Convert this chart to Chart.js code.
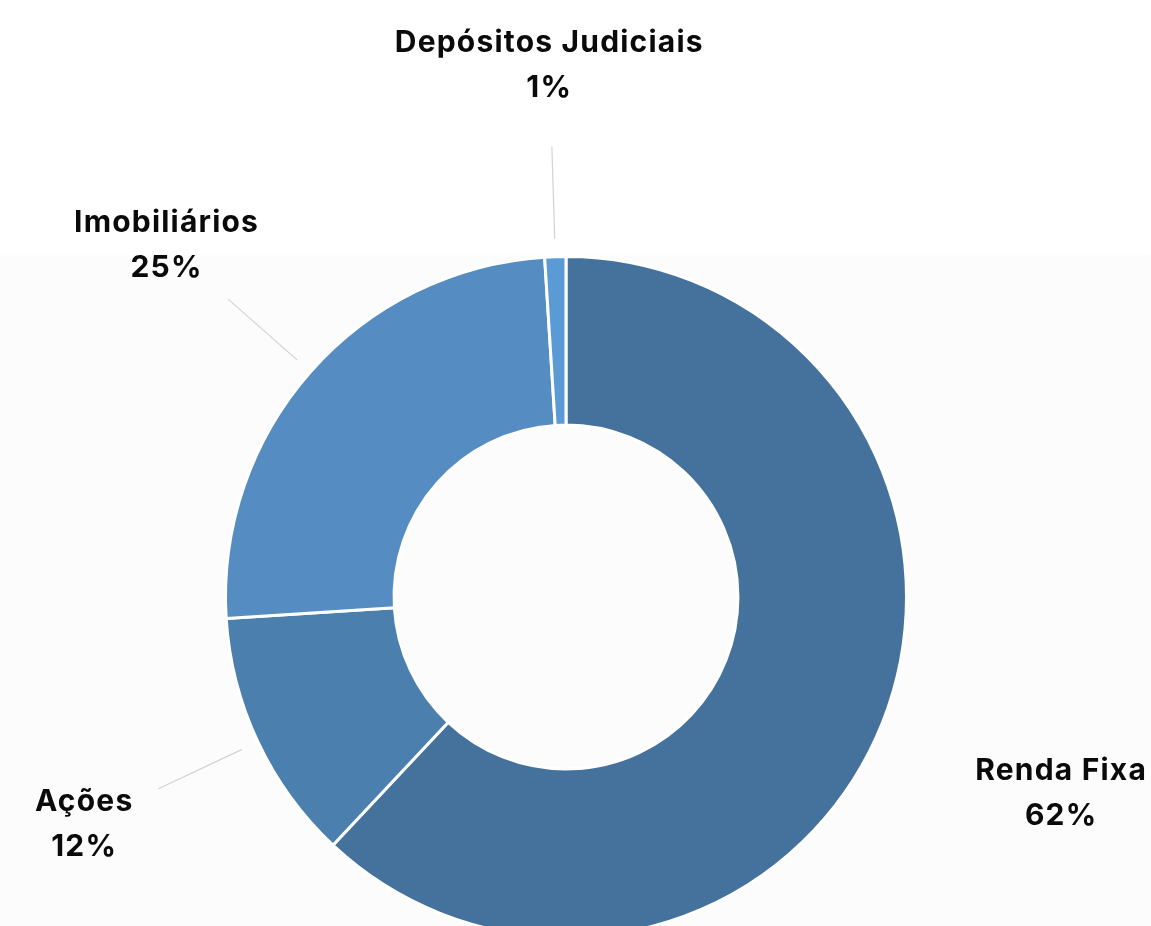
<!DOCTYPE html>
<html lang="pt-BR">
<head>
<meta charset="utf-8">
<title>Composição da carteira</title>
<script src="https://cdn.jsdelivr.net/npm/chart.js@4/dist/chart.umd.min.js"></script>
<style>
  html, body { margin: 0; padding: 0; overflow: hidden; }
  body { width: 1151px; height: 926px; background: linear-gradient(#ffffff 0, #ffffff 254px, #fcfcfc 256px, #fcfcfc 100%); }
  .wrap { position: relative; width: 1151px; height: 960px; }
</style>
</head>
<body>
<div class="wrap">
  <canvas id="chartCarteira"></canvas>
</div>
<script>
// classes de ativos e participação (%)
const categorias = ['Renda Fixa', 'Ações', 'Imobiliários', 'Depósitos Judiciais'];
const valores    = [62, 12, 25, 1];
const cores      = ['#45729c', '#4a7fae', '#558dc3', '#5b9bd5'];
// fatias que recebem linha-guia até o rótulo
const comLinha   = [false, true, true, true];

const FONTE = '"Inter", "Open Sans", sans-serif';

// rótulos externos (nome + %) com linha-guia
const rotulosExternos = {
  id: 'rotulosExternos',
  afterDatasetsDraw(chart) {
    const { ctx } = chart;
    const meta = chart.getDatasetMeta(0);
    const total = valores.reduce((s, v) => s + v, 0);
    meta.data.forEach((arc, i) => {
      const { x, y, startAngle, endAngle, outerRadius } = arc.getProps(['x', 'y', 'startAngle', 'endAngle', 'outerRadius'], true);
      const meio = (startAngle + endAngle) / 2;
      const cos = Math.cos(meio), sin = Math.sin(meio);

      if (comLinha[i]) {
        ctx.save();
        ctx.strokeStyle = '#d2d2d2';
        ctx.lineWidth = 1.2;
        ctx.beginPath();
        ctx.moveTo(x + cos * (outerRadius + 18), y + sin * (outerRadius + 18));
        ctx.lineTo(x + cos * (outerRadius + 110), y + sin * (outerRadius + 110));
        ctx.stroke();
        ctx.restore();
      }

      const r = outerRadius + 192;
      const lx = x + cos * r, ly = y + sin * r;
      const pct = Math.round(valores[i] / total * 100) + '%';
      ctx.save();
      ctx.fillStyle = '#0a0a0a';
      ctx.font = `700 30px ${FONTE}`;
      ctx.letterSpacing = '1.2px';
      ctx.textAlign = 'center';
      ctx.textBaseline = 'middle';
      ctx.fillText(categorias[i], lx, ly - 22);
      ctx.fillText(pct, lx, ly + 23);
      ctx.restore();
    });
  }
};

new Chart(document.getElementById('chartCarteira'), {
  type: 'doughnut',
  data: {
    labels: categorias,
    datasets: [{
      data: valores,
      backgroundColor: cores,
      borderColor: '#ffffff',
      borderWidth: 3,
      hoverOffset: 0
    }]
  },
  options: {
    responsive: true,
    maintainAspectRatio: false,
    animation: false,
    cutout: '50.5%',
    layout: { padding: { top: 255, bottom: 21, left: 224, right: 243 } },
    plugins: {
      legend: { display: false },
      tooltip: { enabled: false }
    }
  },
  plugins: [rotulosExternos]
});
</script>
</body>
</html>
